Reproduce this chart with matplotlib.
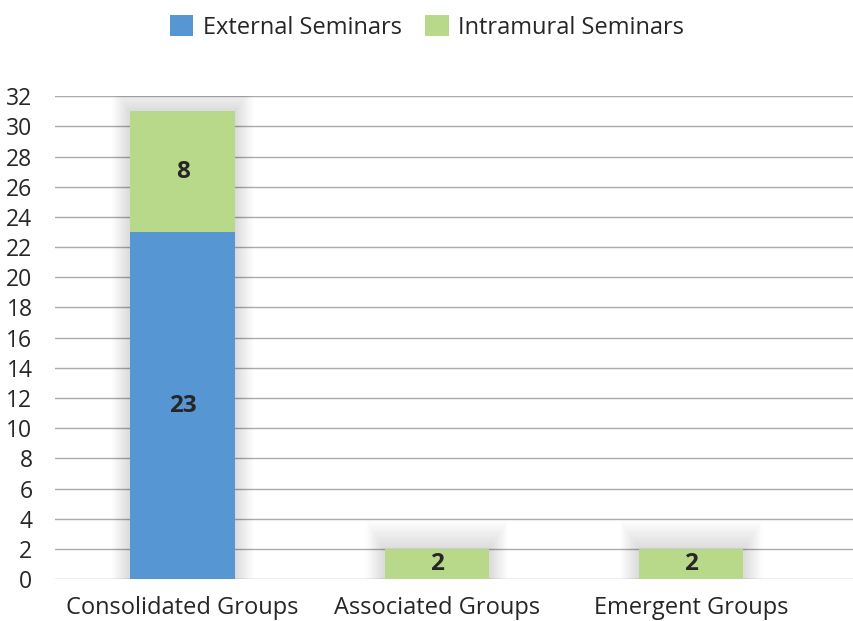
import matplotlib
matplotlib.use("Agg")
import matplotlib.pyplot as plt
from matplotlib.patches import Patch
import numpy as np

categories = ["Consolidated Groups", "Associated Groups", "Emergent Groups"]
external = [23, 0, 0]
intramural = [8, 2, 2]
series_names = ["External Seminars", "Intramural Seminars"]
yticks = list(range(0, 33, 2))

BLUE = "#5596D3"
GREEN = "#B8D98A"
TEXT = "#262626"

plt.rcParams["font.family"] = ["Open Sans", "DejaVu Sans"]

fig = plt.figure(figsize=(8.54, 6.21), dpi=100)
ax = fig.add_axes([0.064, 0.0676, 0.936, 0.7774])

x = np.arange(len(categories))
width = 0.41
totals = [e + i for e, i in zip(external, intramural)]

# soft shadow layers
for k in range(12):
    grow = 0.006 * (k + 1)
    ax.bar(x, [t + 0.16 * (k + 1) for t in totals], width=width + 2 * grow,
           bottom=[-0.1] * len(x), color="black", alpha=0.012, zorder=1, linewidth=0)

ax.bar(x, external, width=width, color=BLUE, zorder=3, linewidth=0)
ax.bar(x, intramural, width=width, bottom=external, color=GREEN, zorder=3, linewidth=0)

for xi, e, i in zip(x, external, intramural):
    if e > 0:
        ax.text(xi, e / 2, str(e), ha="center", va="center", fontsize=17.5,
                fontweight="bold", color=TEXT, zorder=4)
    if i > 0:
        ax.text(xi, e + i / 2, str(i), ha="center", va="center", fontsize=17.5,
                fontweight="bold", color=TEXT, zorder=4)

ax.set_ylim(0, 32)
ax.set_xlim(-0.503, 2.64)
ax.set_yticks(yticks)
ax.set_yticklabels([str(t) for t in yticks], fontsize=16.5, color=TEXT)
ax.set_xticks(x)
ax.set_xticklabels(categories, fontsize=17, color=TEXT)
ax.tick_params(length=0)
ax.tick_params(axis="x", pad=12)
ax.tick_params(axis="y", pad=16)
for s in ax.spines.values():
    s.set_visible(False)
ax.yaxis.grid(True, color="#ABABAB", linewidth=1.0, zorder=0)
ax.set_axisbelow(True)

handles = [Patch(facecolor=BLUE, edgecolor="none"), Patch(facecolor=GREEN, edgecolor="none")]
fig.legend(handles, series_names, loc="center", bbox_to_anchor=(0.5, 0.956), ncol=2,
           frameon=False, fontsize=17, handlelength=1.0, handleheight=1.0,
           handletextpad=0.4, columnspacing=1.0, labelcolor=TEXT)

fig.savefig("out.png", dpi=100)
